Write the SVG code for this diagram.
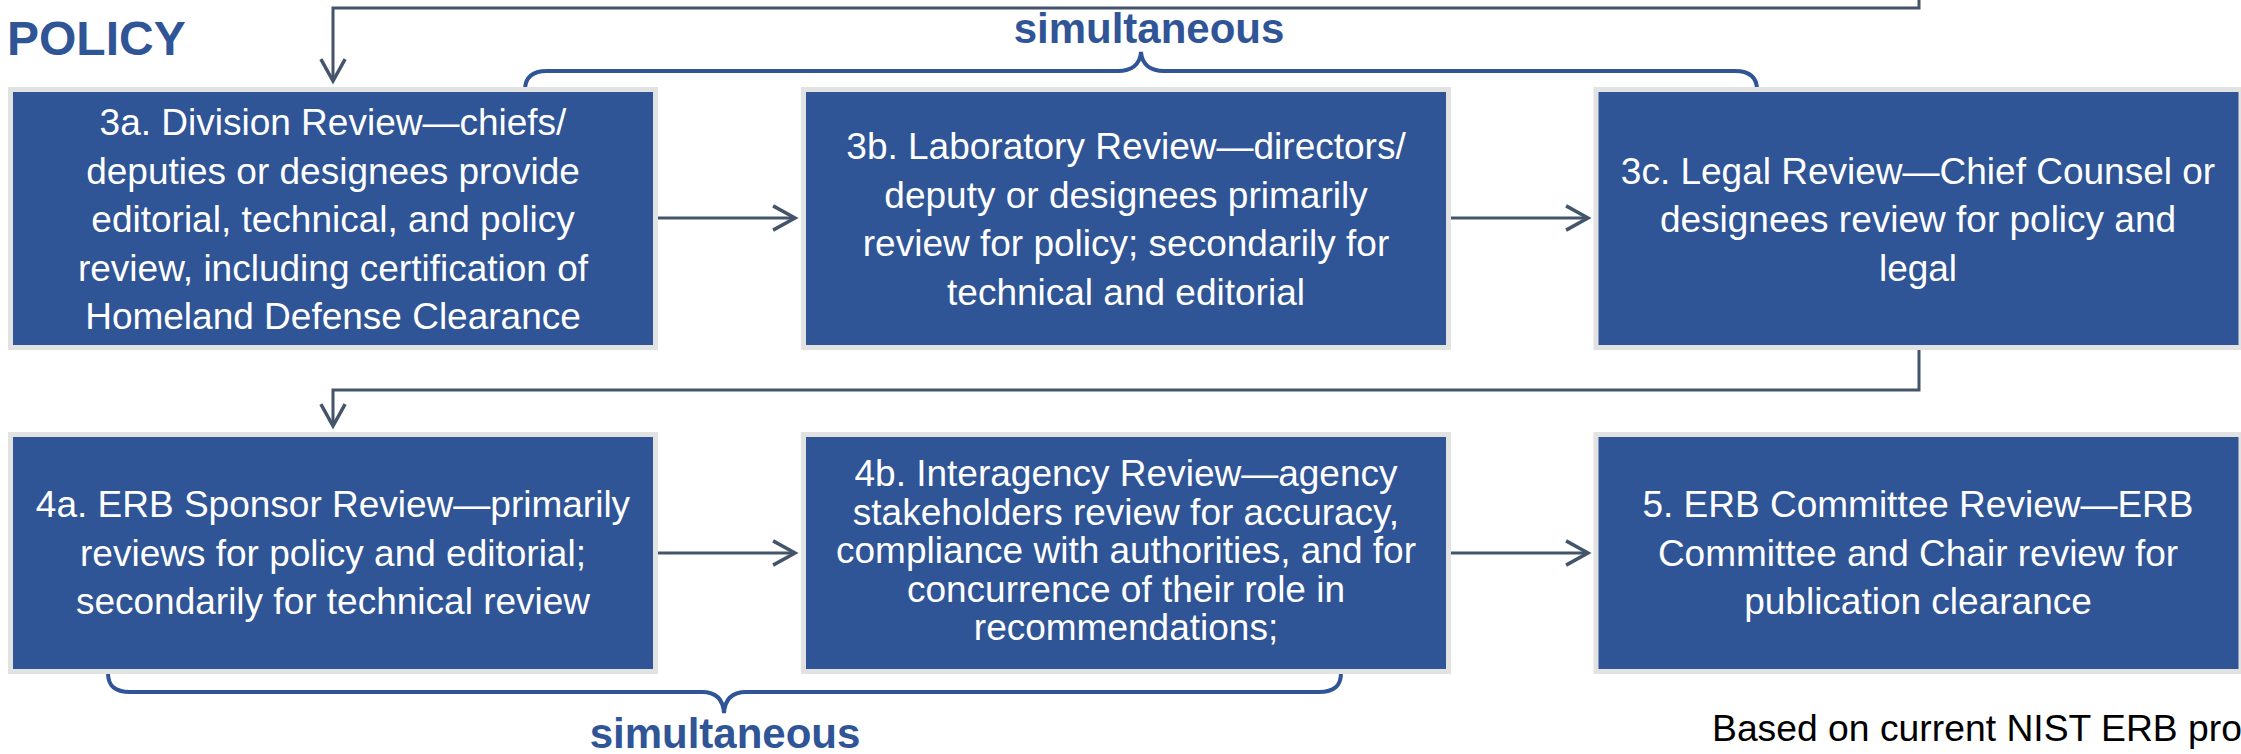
<svg xmlns="http://www.w3.org/2000/svg" width="2241" height="754" viewBox="0 0 2241 754">
<style>
  .box { fill: #2F5597; stroke: #E2E2E2; stroke-width: 5; }
  .lbl { font-family: "Liberation Sans", Arial, sans-serif; font-size: 37px; fill: #FFFFFF; text-anchor: middle; }
  .conn { fill: none; stroke: #44546A; stroke-width: 3; }
  .brace { fill: none; stroke: #2F5597; stroke-width: 4; }
  .sim { font-family: "Liberation Sans", Arial, sans-serif; font-size: 42px; font-weight: bold; fill: #2F5597; text-anchor: middle; }
</style>
<defs>
  <marker id="arr" markerUnits="userSpaceOnUse" markerWidth="30" markerHeight="30" viewBox="-22 -13 26 26" refX="0" refY="0" orient="auto">
    <path d="M-19,-10.5 L0,0 L-19,10.5" fill="none" stroke="#44546A" stroke-width="3"/>
  </marker>
</defs>
<rect width="2241" height="754" fill="#FFFFFF"/>
<text id="title" x="7" y="55" font-family="Liberation Sans, Arial, sans-serif" font-size="48" font-weight="bold" fill="#2F5597">POLICY</text>

<g id="connectors">
  <path class="conn" d="M1919,-5 L1919,8 L333,8 L333,81" marker-end="url(#arr)"/>
  <path class="conn" d="M1919,350 L1919,390 L333,390 L333,426" marker-end="url(#arr)"/>
  <path class="conn" d="M658,218 L795,218" marker-end="url(#arr)"/>
  <path class="conn" d="M1451,218 L1588,218" marker-end="url(#arr)"/>
  <path class="conn" d="M658,553 L795,553" marker-end="url(#arr)"/>
  <path class="conn" d="M1451,553 L1588,553" marker-end="url(#arr)"/>
</g>

<g id="brace-top">
  <path class="brace" d="M525,90 C525,78 532,71 547,71 L1118,71 C1131,71 1140,65 1141,52 C1142,65 1151,71 1164,71 L1735,71 C1750,71 1757,78 1757,90"/>
  <text class="sim" x="1149" y="43">simultaneous</text>
</g>
<g id="brace-bottom">
  <path class="brace" d="M108,673 C108,686 115,692 130,692 L702,692 C715,692 723,698 724,713 C725,698 733,692 746,692 L1319,692 C1334,692 1341,686 1341,673"/>
  <text class="sim" x="725" y="748">simultaneous</text>
</g>

<g id="n3a">
  <rect class="box" x="10.5" y="89.5" width="645" height="258"/>
  <text class="lbl" x="333" y="135">3a. Division Review—chiefs/</text>
  <text class="lbl" x="333" y="183.5">deputies or designees provide</text>
  <text class="lbl" x="333" y="232">editorial, technical, and policy</text>
  <text class="lbl" x="333" y="280.5">review, including certification of</text>
  <text class="lbl" x="333" y="329">Homeland Defense Clearance</text>
</g>
<g id="n3b">
  <rect class="box" x="803.5" y="89.5" width="645" height="258"/>
  <text class="lbl" x="1126" y="159">3b. Laboratory Review—directors/</text>
  <text class="lbl" x="1126" y="207.5">deputy or designees primarily</text>
  <text class="lbl" x="1126" y="256">review for policy; secondarily for</text>
  <text class="lbl" x="1126" y="304.5">technical and editorial</text>
</g>
<g id="n3c">
  <rect class="box" x="1596" y="89.5" width="645" height="258"/>
  <text class="lbl" x="1918" y="183.5">3c. Legal Review—Chief Counsel or</text>
  <text class="lbl" x="1918" y="232">designees review for policy and</text>
  <text class="lbl" x="1918" y="280.5">legal</text>
</g>
<g id="n4a">
  <rect class="box" x="10.5" y="434.5" width="645" height="237"/>
  <text class="lbl" x="333" y="517">4a. ERB Sponsor Review—primarily</text>
  <text class="lbl" x="333" y="565.5">reviews for policy and editorial;</text>
  <text class="lbl" x="333" y="614">secondarily for technical review</text>
</g>
<g id="n4b">
  <rect class="box" x="803.5" y="434.5" width="645" height="237"/>
  <text class="lbl" x="1126" y="486">4b. Interagency Review—agency</text>
  <text class="lbl" x="1126" y="524.5">stakeholders review for accuracy,</text>
  <text class="lbl" x="1126" y="563">compliance with authorities, and for</text>
  <text class="lbl" x="1126" y="601.5">concurrence of their role in</text>
  <text class="lbl" x="1126" y="640">recommendations;</text>
</g>
<g id="n5">
  <rect class="box" x="1596" y="434.5" width="645" height="237"/>
  <text class="lbl" x="1918" y="517">5. ERB Committee Review—ERB</text>
  <text class="lbl" x="1918" y="565.5">Committee and Chair review for</text>
  <text class="lbl" x="1918" y="614">publication clearance</text>
</g>

<text id="note" x="1712" y="741" font-family="Liberation Sans, Arial, sans-serif" font-size="37.3" fill="#000000">Based on current NIST ERB pro</text>
</svg>
